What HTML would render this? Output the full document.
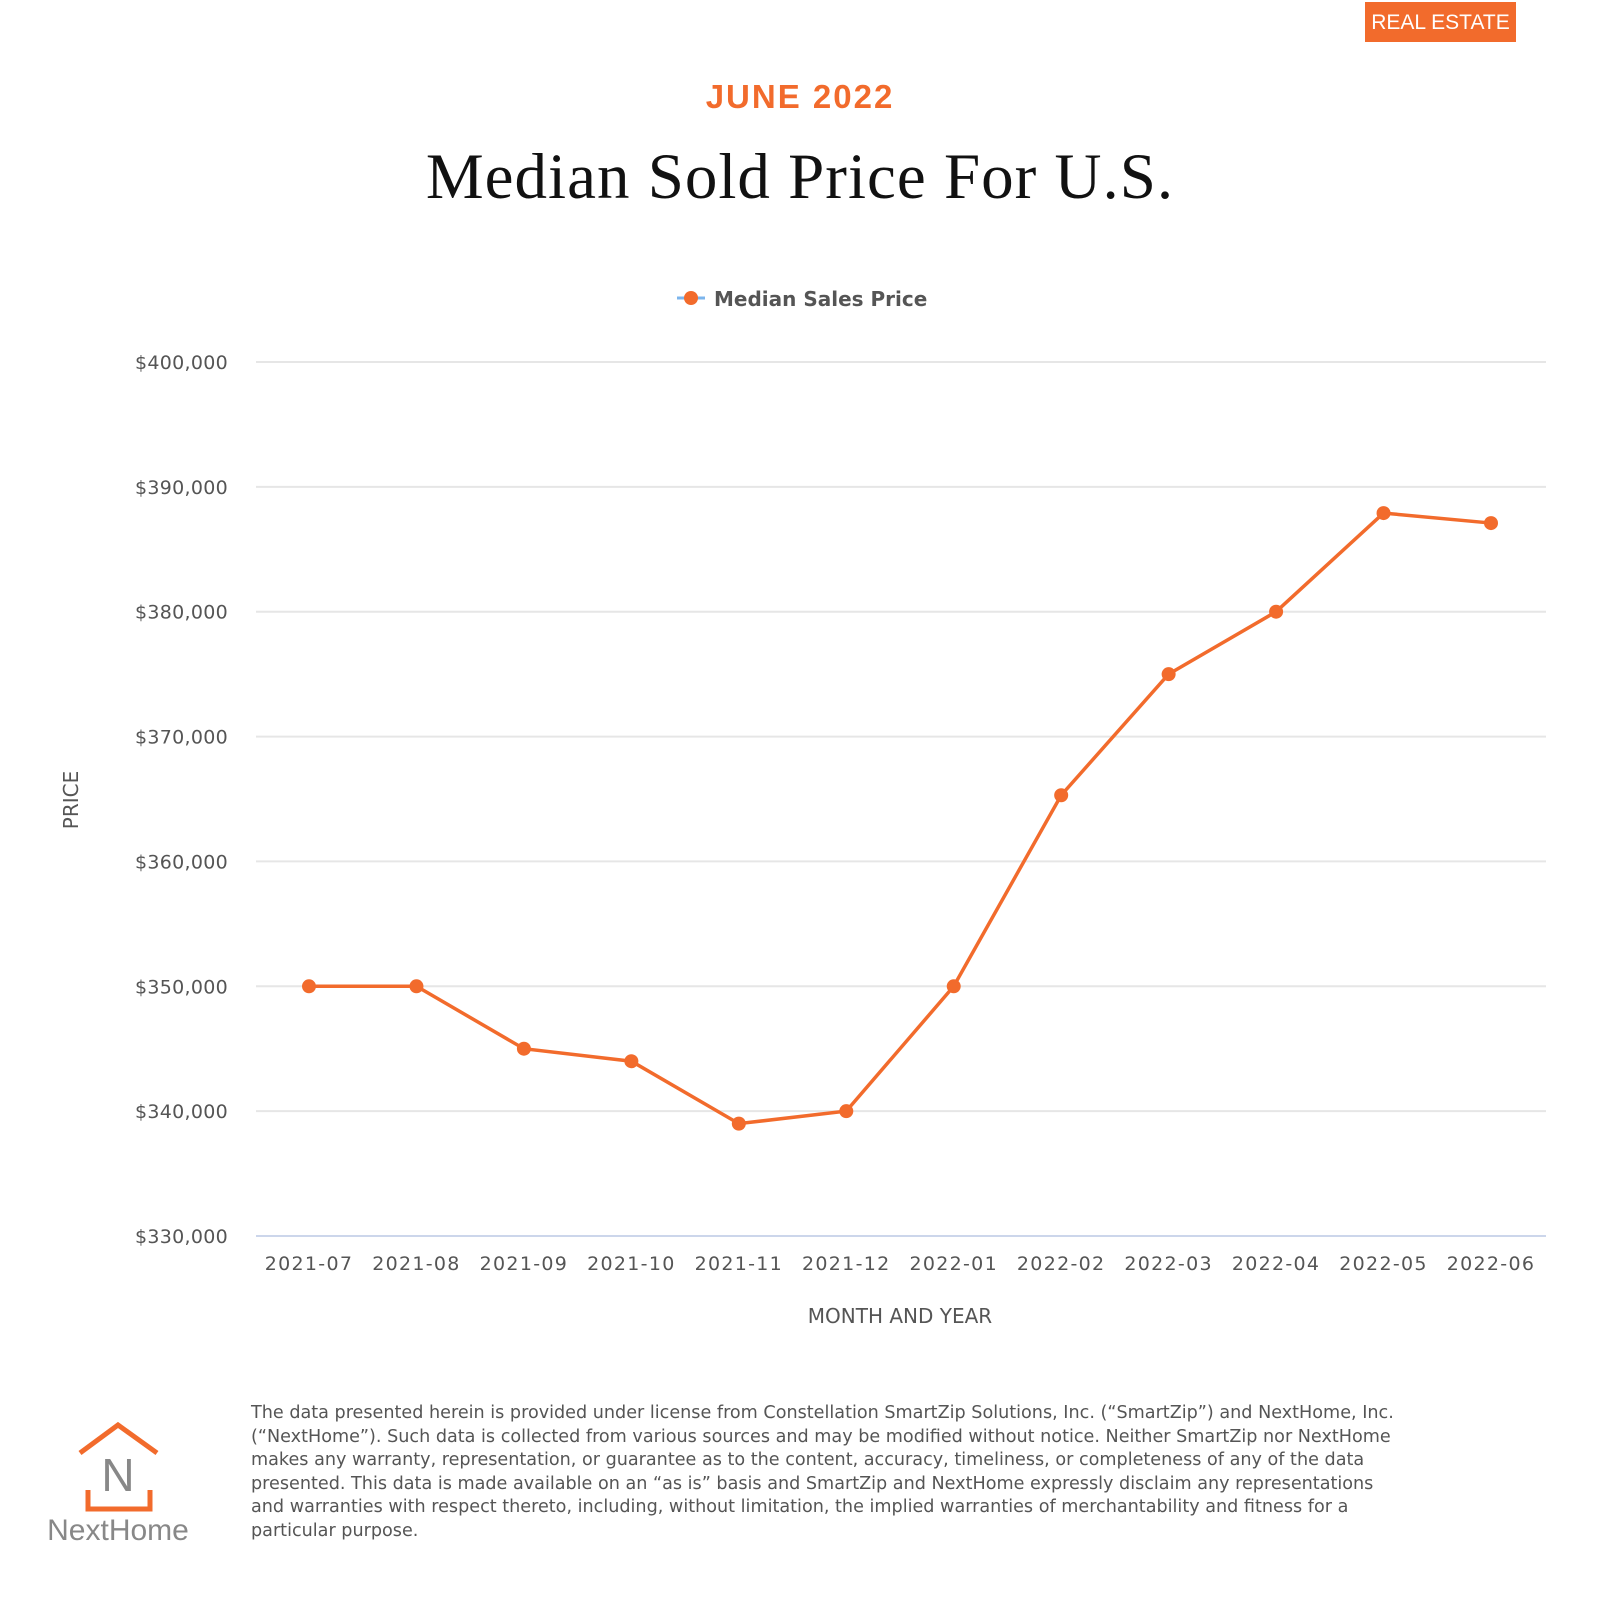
<!DOCTYPE html>
<html><head><meta charset="utf-8"><style>
body{margin:0;width:1600px;height:1600px;background:#fff;position:relative;font-family:"DejaVu Sans","Liberation Sans",sans-serif;overflow:hidden}
.abs{position:absolute}
</style></head><body>
<div class="abs" style="left:1365px;top:2px;width:151px;height:40px;background:#f26b2c;color:#fff;font-size:21px;line-height:42px;text-align:center;font-family:'Liberation Sans',sans-serif">REAL ESTATE</div>
<div class="abs" style="left:0;width:1600px;top:78px;text-align:center;color:#f26b2c;font-size:33px;font-weight:bold;font-family:'Liberation Sans',sans-serif;letter-spacing:2px">JUNE 2022</div>
<div class="abs" style="left:0;width:1600px;top:140px;text-align:center;color:#111;font-size:65px;letter-spacing:1px;font-family:'Liberation Serif',serif">Median Sold Price For U.S.</div>
<svg class="abs" style="left:0;top:0" width="1600" height="1600" id="chart">
<g>
<line x1="677" y1="298" x2="705" y2="298" stroke="#7cb5ec" stroke-width="3"/>
<circle cx="691" cy="298" r="7" fill="#f26b2c"/>
<text x="714" y="306" font-size="20" font-weight="bold" fill="#555" font-family="DejaVu Sans,sans-serif">Median Sales Price</text>
</g>
<text transform="translate(78,800) rotate(-90)" text-anchor="middle" font-size="20" fill="#555">PRICE</text>
<text x="900" y="1323" text-anchor="middle" font-size="20" fill="#555">MONTH AND YEAR</text>
<g id="grid"></g><g id="xt"></g><g id="series"></g>
</svg>
<div class="abs" style="left:251px;top:1402px;width:1160px;font-size:17.6px;line-height:23.6px;color:#555">The data presented herein is provided under license from Constellation SmartZip Solutions, Inc. (“SmartZip”) and NextHome, Inc. (“NextHome”). Such data is collected from various sources and may be modified without notice. Neither SmartZip nor NextHome makes any warranty, representation, or guarantee as to the content, accuracy, timeliness, or completeness of any of the data presented. This data is made available on an “as is” basis and SmartZip and NextHome expressly disclaim any representations and warranties with respect thereto, including, without limitation, the implied warranties of merchantability and fitness for a particular purpose.</div>
<svg class="abs" style="left:0;top:1380px" width="240" height="200">
<polyline points="80,73 118,45 157,73" fill="none" stroke="#f26b2c" stroke-width="5"/>
<polyline points="88,110 88,129 150,129 150,110" fill="none" stroke="#f26b2c" stroke-width="5"/>
<text x="118" y="111" text-anchor="middle" font-size="46" fill="#888" font-family="Liberation Sans,sans-serif">N</text>
<text x="118" y="160" text-anchor="middle" font-size="30" fill="#888" font-family="Liberation Sans,sans-serif">NextHome</text>
</svg>
<script>
const categories=["2021-07","2021-08","2021-09","2021-10","2021-11","2021-12","2022-01","2022-02","2022-03","2022-04","2022-05","2022-06"];
const values=[350000,350000,345000,344000,339000,340000,350000,365300,375000,380000,387900,387100];
const yTicks=[330000,340000,350000,360000,370000,380000,390000,400000];
const NS="http://www.w3.org/2000/svg";
const L=256,R=1546,T=362,B=1236,ymin=330000,ymax=400000;
const x=i=>309+i*(1491-309)/(categories.length-1);
const y=v=>B-(v-ymin)/(ymax-ymin)*(B-T);
function mk(t,a,p){const e=document.createElementNS(NS,t);for(const k in a)e.setAttribute(k,a[k]);p.appendChild(e);return e;}
const g=document.getElementById('grid');
yTicks.forEach(v=>{
const l=mk('line',{x1:L,x2:R,y1:y(v),y2:y(v),stroke:v===ymin?'#ccd6eb':'#e6e6e6','stroke-width':2},g);


const t=mk('text',{x:228,y:y(v)+7,'text-anchor':'end','font-size':19,fill:'#555','letter-spacing':0.3},g);
t.textContent='$'+v.toLocaleString('en-US');


});
const xt=document.getElementById('xt');
categories.forEach((c,i)=>{
const t=mk('text',{x:x(i),y:1270,'text-anchor':'middle','font-size':19,fill:'#555','letter-spacing':1.3},xt);
t.textContent=c;


});
const s=document.getElementById('series');
const pl=mk('polyline',{points:values.map((v,i)=>x(i)+','+y(v)).join(' '),fill:'none',stroke:'#f26b2c','stroke-width':3.5},s);


values.forEach((v,i)=>{
const c=mk('circle',{cx:x(i),cy:y(v),r:7,fill:'#f26b2c'},s);


});
</script>
</body></html>
